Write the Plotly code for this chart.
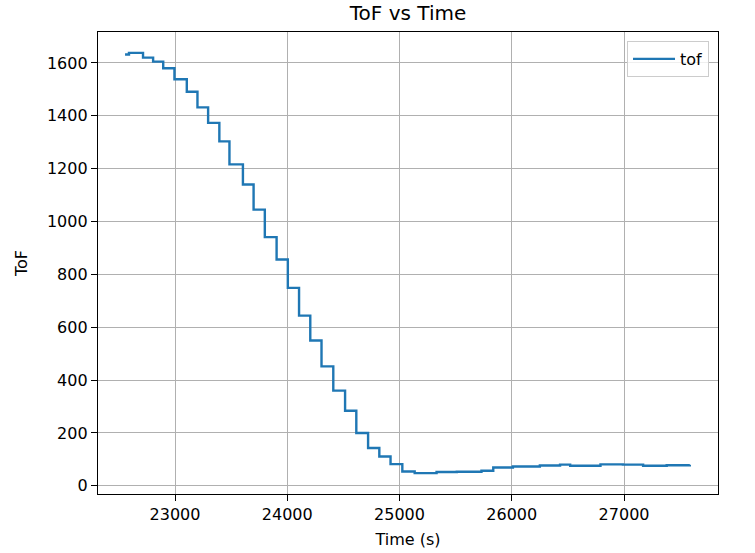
import plotly.graph_objects as go

time_s = [22555, 22590, 22715, 22805, 22895, 22995, 23105, 23200, 23295, 23395,
          23485, 23605, 23700, 23800, 23905, 24005, 24105, 24205, 24305, 24410,
          24515, 24615, 24720, 24820, 24920, 25025, 25135, 25330, 25510, 25730,
          25835, 26010, 26250, 26430, 26520, 26790, 26990, 27170, 27380, 27586]
tof = [1632, 1638, 1620, 1605, 1580, 1538, 1491, 1432, 1373, 1303,
       1216, 1140, 1045, 941, 856, 749, 644, 550, 452, 360,
       284, 200, 143, 111, 82, 54, 48, 52, 53, 57,
       69, 73, 77, 80, 76, 81, 80, 76, 78, 80]

x_ticks = [23000, 24000, 25000, 26000, 27000]
y_ticks = [0, 200, 400, 600, 800, 1000, 1200, 1400, 1600]

fig = go.Figure()
fig.add_trace(go.Scatter(x=time_s, y=tof, mode="lines", name="tof",
                         line=dict(color="#1f77b4", width=2.4, shape="hv")))

font = dict(family="DejaVu Sans", size=16, color="black")
axis_common = dict(showline=True, mirror=True, linecolor="black", linewidth=1.3,
                   ticks="outside", ticklen=6, tickwidth=1.3, tickcolor="black",
                   showgrid=True, gridcolor="#b0b0b0", gridwidth=1.3,
                   zeroline=False, tickfont=font, automargin=False)

fig.update_layout(
    width=755, height=553,
    margin=dict(l=98, r=37, t=32, b=59, autoexpand=False),
    paper_bgcolor="white", plot_bgcolor="white",
    font=font,
    title=dict(text="ToF vs Time", x=0.5, xref="paper", xanchor="center",
               y=0.976, yref="container", yanchor="middle",
               font=dict(family="DejaVu Sans", size=20, color="black")),
    showlegend=True,
    legend=dict(x=0.9855, y=0.9805, xanchor="right", yanchor="top",
                itemwidth=42,
                bgcolor="rgba(255,255,255,0.8)", bordercolor="#cccccc", borderwidth=1,
                font=dict(family="DejaVu Sans", size=16, color="black")),
)
fig.update_xaxes(range=[22314, 27837], tickvals=x_ticks,
                 ticktext=[str(v) for v in x_ticks],
                 title=dict(text="Time (s)", standoff=10, font=font), **axis_common)
fig.update_yaxes(range=[-31, 1717], tickvals=y_ticks,
                 ticktext=[str(v) for v in y_ticks],
                 title=dict(text="ToF", standoff=15, font=font), **axis_common)

fig.write_html("out.html", config={"displayModeBar": False},
               post_script="document.body.style.margin='0';document.body.style.overflow='hidden';")
